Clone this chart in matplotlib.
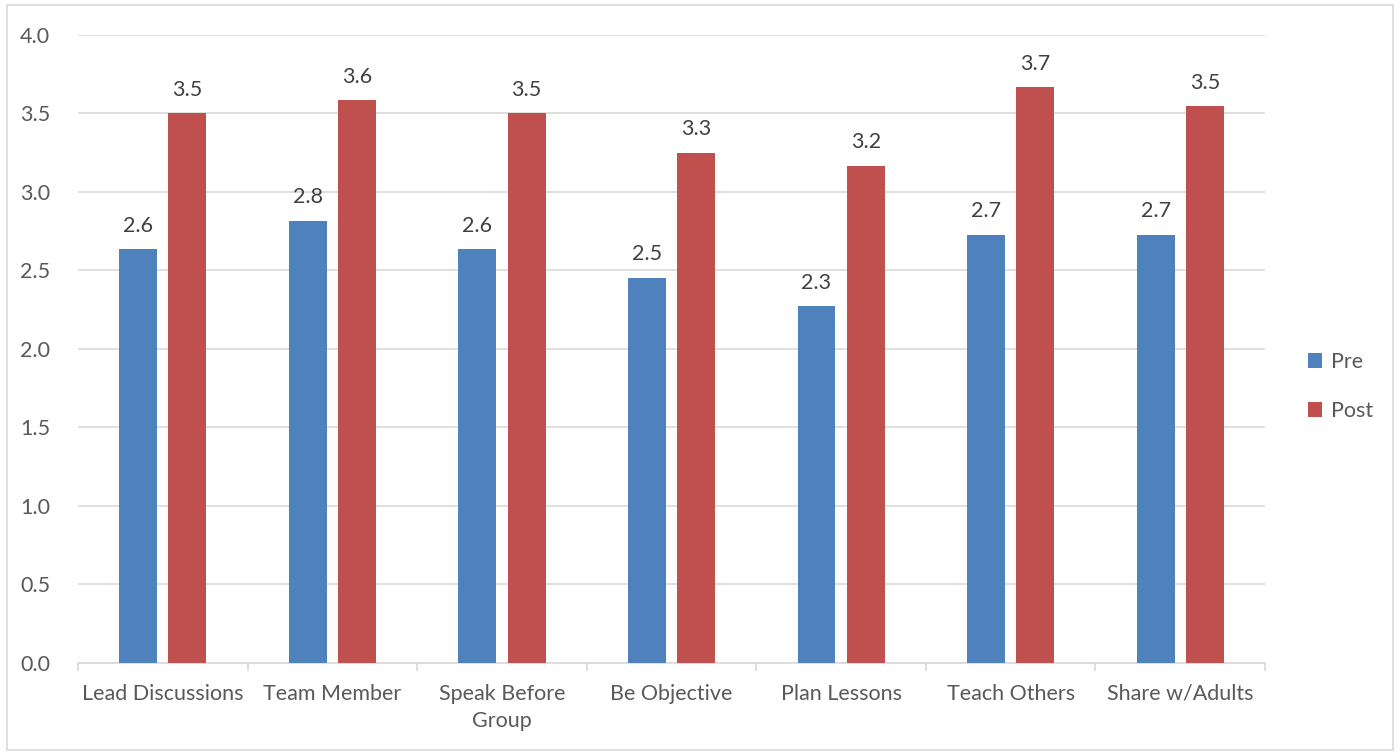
import matplotlib
matplotlib.use("Agg")
import matplotlib.pyplot as plt
from matplotlib.patches import Rectangle
import numpy as np

categories = ["Lead Discussions", "Team Member", "Speak Before\nGroup", "Be Objective",
              "Plan Lessons", "Teach Others", "Share w/Adults"]
pre = [2.636, 2.818, 2.636, 2.455, 2.273, 2.727, 2.727]
post = [3.5, 3.583, 3.5, 3.251, 3.167, 3.667, 3.545]
yticks = [0.0, 0.5, 1.0, 1.5, 2.0, 2.5, 3.0, 3.5, 4.0]

plt.rcParams['font.family'] = ['Lato', 'DejaVu Sans']
TXT = '#595959'
BLUE = '#4f81bd'
RED = '#c0504d'
FS = 15.5

fig = plt.figure(figsize=(14, 7.52), dpi=100)
fig.patches.append(Rectangle((0.005, 0.003), 0.99, 0.99, transform=fig.transFigure,
                             fill=False, edgecolor='#d9d9d9', linewidth=1.2))
ax = fig.add_axes([0.0557, 0.1184, 0.8479, 0.8351])

x = np.arange(len(categories))
w = 0.224
off = 0.145
ax.bar(x - off, pre, w, color=BLUE, label='Pre', zorder=3)
ax.bar(x + off, post, w, color=RED, label='Post', zorder=3)

for xi, v in zip(x - off, pre):
    ax.text(xi, v + 0.085, f"{v:.1f}", ha='center', va='bottom', fontsize=FS, color='#404040')
for xi, v in zip(x + off, post):
    ax.text(xi, v + 0.085, f"{v:.1f}", ha='center', va='bottom', fontsize=FS, color='#404040')

ax.set_xlim(-0.5, len(categories) - 0.5)
ax.set_ylim(0, 4.0)
ax.set_yticks(yticks)
ax.set_yticklabels([f"{t:.1f}" for t in yticks])
ax.yaxis.grid(True, color='#d9d9d9', linewidth=1.2, zorder=0)
ax.set_axisbelow(True)
for s in ['top', 'right', 'left']:
    ax.spines[s].set_visible(False)
ax.spines['bottom'].set_color('#d9d9d9')
ax.spines['bottom'].set_linewidth(1.2)
ax.tick_params(axis='y', length=0, labelsize=FS, labelcolor=TXT, pad=20)
ax.set_xticks(x)
ax.set_xticklabels(categories, linespacing=1.45)
ax.tick_params(axis='x', which='major', length=0, labelsize=FS, labelcolor=TXT, pad=15)
ax.set_xticks(np.arange(-0.5, len(categories)), minor=True)
ax.tick_params(axis='x', which='minor', length=6, color='#d9d9d9', width=1.2)

leg = ax.legend(loc='center left', bbox_to_anchor=(1.02, 0.44), frameon=False,
                fontsize=FS, labelcolor=TXT, handlelength=0.65, handleheight=0.65,
                handletextpad=0.4, labelspacing=1.35)

fig.savefig('out.png', dpi=100)
